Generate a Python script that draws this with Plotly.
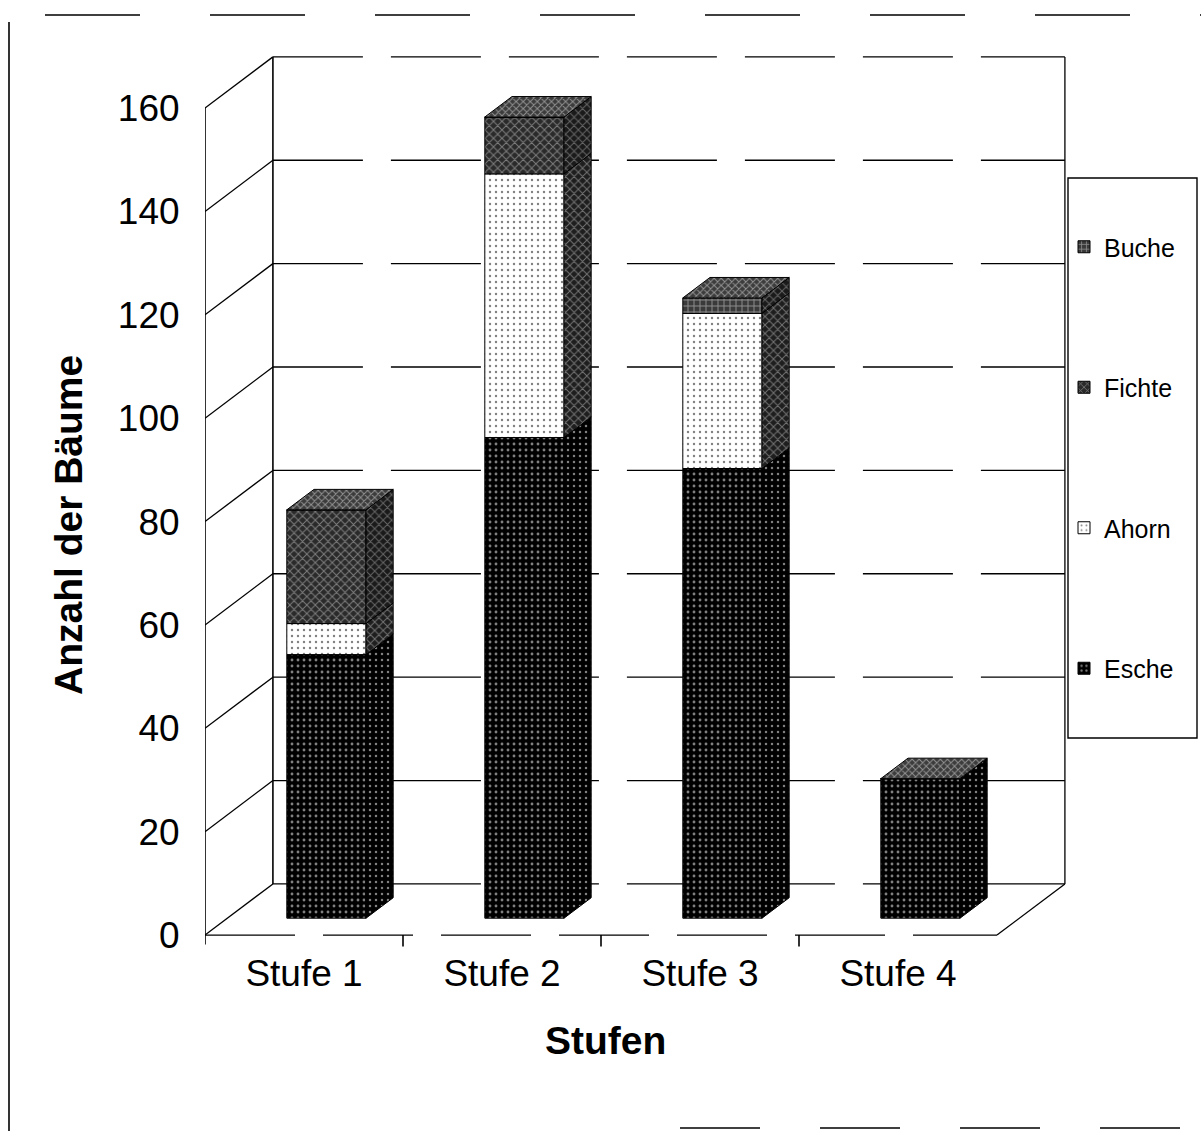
import plotly.graph_objects as go

# Tree counts per stage, stacked by species (bottom to top)
stufen = ["Stufe 1", "Stufe 2", "Stufe 3", "Stufe 4"]
esche = [51, 93, 87, 27]
ahorn = [6, 51, 30, 0]
fichte = [22, 11, 0, 0]
buche = [0, 0, 3, 0]
y_ticks = [0, 20, 40, 60, 80, 100, 120, 140, 160]

series = [
    ("Esche", esche),
    ("Ahorn", ahorn),
    ("Fichte", fichte),
    ("Buche", buche),
]

# Fill patterns for the front faces, side faces and legend
front_pat = {
    "Esche": dict(shape=".", fgcolor="white", bgcolor="black", size=6, solidity=0.18),
    "Ahorn": dict(shape=".", fgcolor="black", bgcolor="white", size=6, solidity=0.12),
    "Fichte": dict(shape="x", fgcolor="#d0d0d0", bgcolor="#2a2a2a", size=6, solidity=0.3),
    "Buche": dict(shape="+", fgcolor="#e0e0e0", bgcolor="#3a3a3a", size=6, solidity=0.3),
}
side_pat = {
    "Esche": dict(shape=".", fgcolor="white", bgcolor="black", size=6, solidity=0.14),
    "Ahorn": dict(shape="x", fgcolor="#c8c8c8", bgcolor="#1e1e1e", size=6, solidity=0.3),
    "Fichte": dict(shape="x", fgcolor="#b0b0b0", bgcolor="#1a1a1a", size=6, solidity=0.3),
    "Buche": dict(shape="x", fgcolor="#b0b0b0", bgcolor="#1a1a1a", size=6, solidity=0.3),
}
top_pat = dict(shape="x", fgcolor="#e8e8e8", bgcolor="#3c3c3c", size=5, solidity=0.35)
legend_rank = {"Buche": 1, "Fichte": 2, "Ahorn": 3, "Esche": 4}

# Oblique projection of the depth axis (in category / value units)
DX = 0.343      # horizontal shift for full depth
DY = 9.9        # vertical shift for full depth
D_FRONT = 0.33  # depth of the bar front faces
D_THICK = 0.40  # depth thickness of each bar
BAR_W = 0.40

xs = [i + D_FRONT * DX for i in range(len(stufen))]
base0 = D_FRONT * DY

fig = go.Figure()

# Front faces as stacked bars
cum = [0.0] * len(stufen)
segments = []
for name, vals in series:
    bases = [base0 + c for c in cum]
    fig.add_trace(go.Bar(
        x=xs, y=vals, base=bases, width=BAR_W, name=name,
        legendgroup=name, legendrank=legend_rank[name],
        marker=dict(color=front_pat[name]["bgcolor"], pattern=front_pat[name],
                    line=dict(color="black", width=1)),
        hoverinfo="skip",
    ))
    segments.append((name, list(bases), vals))
    cum = [c + v for c, v in zip(cum, vals)]

# Right-hand side faces of each stacked segment
for name, bases, vals in segments:
    px, py = [], []
    for x, b, v in zip(xs, bases, vals):
        if v <= 0:
            continue
        xr = x + BAR_W / 2
        t = b + v
        px += [xr, xr, xr + D_THICK * DX, xr + D_THICK * DX, xr, None]
        py += [b, t, t + D_THICK * DY, b + D_THICK * DY, b, None]
    if px:
        fig.add_trace(go.Scatter(
            x=px, y=py, mode="lines", fill="toself",
            fillcolor=side_pat[name]["bgcolor"], fillpattern=side_pat[name],
            line=dict(color="black", width=1), showlegend=False, hoverinfo="skip",
        ))

# Top faces of the stacks
px, py = [], []
for x, total in zip(xs, cum):
    t = base0 + total
    xl, xr = x - BAR_W / 2, x + BAR_W / 2
    px += [xl, xr, xr + D_THICK * DX, xl + D_THICK * DX, xl, None]
    py += [t, t, t + D_THICK * DY, t + D_THICK * DY, t, None]
fig.add_trace(go.Scatter(
    x=px, y=py, mode="lines", fill="toself",
    fillcolor=top_pat["bgcolor"], fillpattern=top_pat,
    line=dict(color="black", width=1), showlegend=False, hoverinfo="skip",
))

# Walls, floor and gridlines of the 3D frame
X0, X1 = -0.5, 3.5
shapes = []
line_k = dict(color="black", width=1.3)
grid_k = dict(color="black", width=1.3, dash="90px,28px")
for v in y_ticks:
    # back wall gridline
    shapes.append(dict(type="line", xref="x", yref="y", layer="below",
                       x0=X0 + DX, x1=X1 + DX, y0=v + DY, y1=v + DY, line=grid_k))
    # diagonal on the side wall
    shapes.append(dict(type="line", xref="x", yref="y", layer="below",
                       x0=X0, x1=X0 + DX, y0=v, y1=v + DY, line=line_k))
# front axis, back corner edge, right back edge
shapes.append(dict(type="line", xref="x", yref="y", layer="below",
                   x0=X0, x1=X0, y0=-1.8, y1=160, line=dict(color="black", width=1.6)))
shapes.append(dict(type="line", xref="x", yref="y", layer="below",
                   x0=X0 + DX, x1=X0 + DX, y0=DY, y1=160 + DY, line=dict(color="black", width=1.6)))
shapes.append(dict(type="line", xref="x", yref="y", layer="below",
                   x0=X1 + DX, x1=X1 + DX, y0=DY, y1=160 + DY, line=dict(color="black", width=1.3)))
# floor front edge and right floor edge
shapes.append(dict(type="line", xref="x", yref="y", layer="below",
                   x0=X0, x1=X1, y0=0, y1=0, line=grid_k))
shapes.append(dict(type="line", xref="x", yref="y", layer="below",
                   x0=X1, x1=X1 + DX, y0=0, y1=DY, line=line_k))
# category separators below the floor
for b in [0.5, 1.5, 2.5]:
    shapes.append(dict(type="line", xref="x", yref="y", layer="below",
                       x0=b, x1=b, y0=0, y1=-2.2, line=dict(color="black", width=1.6)))

# Outer chart frame
PL, PT, PW, PH = 205, 45, 891, 903


def px2paper_x(p):
    return (p - PL) / PW


def px2paper_y(p):
    return (PT + PH - p) / PH


shapes.append(dict(type="line", xref="paper", yref="paper",
                   x0=px2paper_x(9), x1=px2paper_x(9), y0=px2paper_y(22), y1=px2paper_y(1131),
                   line=dict(color="black", width=1.6)))
shapes.append(dict(type="line", xref="paper", yref="paper",
                   x0=px2paper_x(45), x1=px2paper_x(1201), y0=px2paper_y(15), y1=px2paper_y(15),
                   line=dict(color="black", width=1.6, dash="95px,70px")))
shapes.append(dict(type="line", xref="paper", yref="paper",
                   x0=px2paper_x(680), x1=px2paper_x(1201), y0=px2paper_y(1128), y1=px2paper_y(1128),
                   line=dict(color="black", width=1.6, dash="80px,60px")))
# legend frame
shapes.append(dict(type="rect", xref="paper", yref="paper", layer="below",
                   x0=px2paper_x(1068), x1=px2paper_x(1197), y0=px2paper_y(738), y1=px2paper_y(178),
                   line=dict(color="black", width=1.4), fillcolor="white"))

FONT = "Liberation Sans, Arial, sans-serif"

fig.update_layout(
    width=1201, height=1131,
    margin=dict(l=PL, r=1201 - PL - PW, t=PT, b=1131 - PT - PH, autoexpand=False),
    paper_bgcolor="white", plot_bgcolor="white",
    barmode="overlay",
    font=dict(family=FONT, color="black"),
    shapes=shapes,
    xaxis=dict(range=[-0.5, 4.0], tickvals=[0, 1, 2, 3], ticktext=stufen,
               showgrid=False, zeroline=False, showline=False,
               ticks="", tickfont=dict(size=37, family=FONT), automargin=False),
    yaxis=dict(range=[-2.5, 172.2], tickvals=y_ticks,
               showgrid=False, zeroline=False, showline=False,
               ticks="outside", ticklen=17, tickcolor="rgba(0,0,0,0)",
               tickfont=dict(size=37, family=FONT), automargin=False),
    legend=dict(
        x=px2paper_x(1064), y=px2paper_y(224), xanchor="left", yanchor="top",
        traceorder="grouped", tracegroupgap=105,
        borderwidth=0, bgcolor="rgba(0,0,0,0)",
        font=dict(size=25, family=FONT), itemwidth=30,
    ),
    annotations=[
        dict(text="<b>Anzahl der Bäume</b>", xref="paper", yref="paper",
             x=px2paper_x(68), y=px2paper_y(525), xanchor="center", yanchor="middle",
             textangle=-90, showarrow=False, font=dict(size=39, family=FONT)),
        dict(text="<b>Stufen</b>", xref="paper", yref="paper",
             x=px2paper_x(605), y=px2paper_y(1040), xanchor="center", yanchor="middle",
             showarrow=False, font=dict(size=39, family=FONT)),
    ],
)

fig.write_html("out.html")
